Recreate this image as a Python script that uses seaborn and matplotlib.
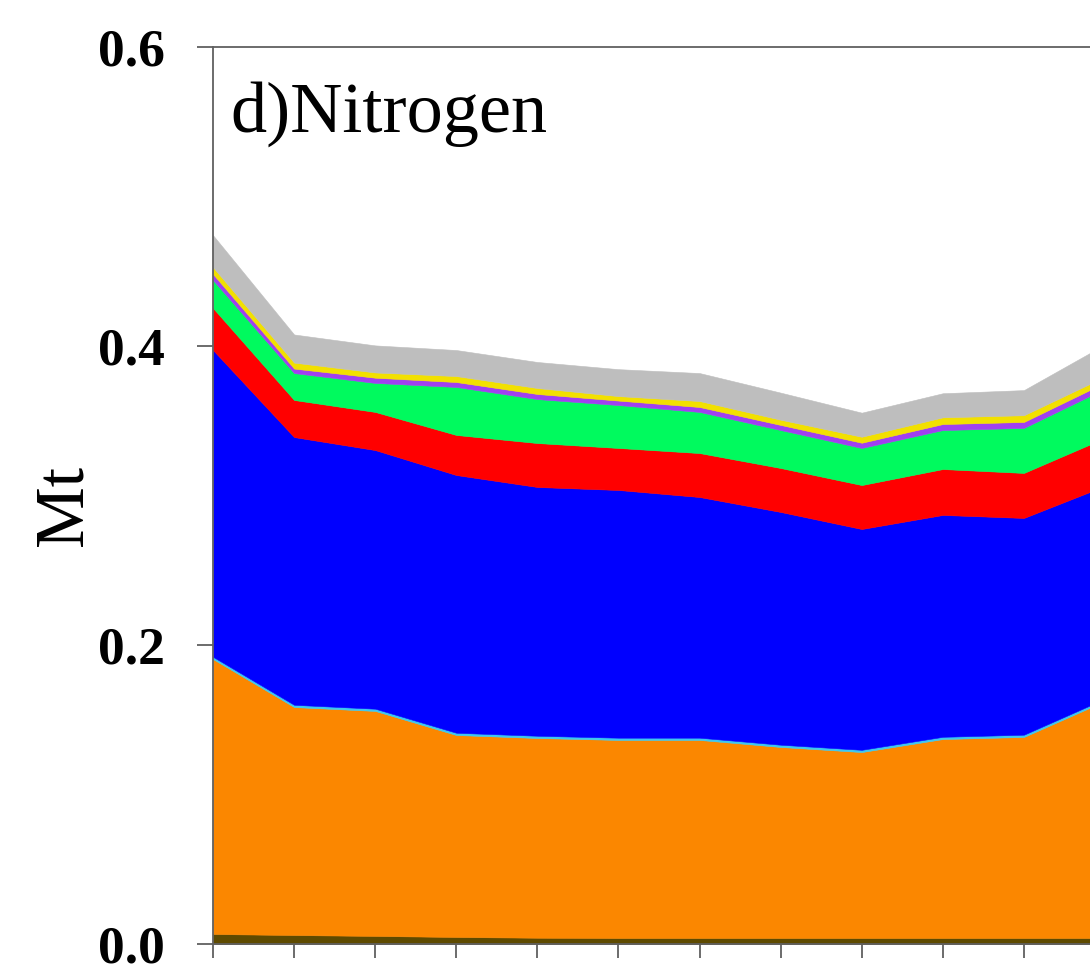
import numpy as np
import matplotlib
matplotlib.use("Agg")
import matplotlib.pyplot as plt
import seaborn as sns

# Time steps along the x axis
steps = np.arange(12)

# Nitrogen amounts per component (Mt), stacked bottom to top
dark_olive = [0.0067, 0.0060, 0.0054, 0.0047, 0.0042, 0.0040, 0.0040, 0.0040, 0.0040, 0.0040, 0.0040, 0.0040]
orange     = [0.1839, 0.1525, 0.1505, 0.1351, 0.1336, 0.1325, 0.1325, 0.1278, 0.1244, 0.1331, 0.1345, 0.1585]
cyan       = [0.0015, 0.0015, 0.0015, 0.0015, 0.0015, 0.0015, 0.0015, 0.0015, 0.0015, 0.0015, 0.0015, 0.0015]
blue       = [0.2052, 0.1791, 0.1730, 0.1724, 0.1664, 0.1657, 0.1610, 0.1557, 0.1477, 0.1484, 0.1450, 0.1424]
red        = [0.0281, 0.0248, 0.0255, 0.0268, 0.0294, 0.0281, 0.0294, 0.0294, 0.0294, 0.0307, 0.0301, 0.0321]
green      = [0.0187, 0.0180, 0.0194, 0.0321, 0.0294, 0.0287, 0.0275, 0.0254, 0.0248, 0.0261, 0.0301, 0.0330]
purple     = [0.0040, 0.0030, 0.0035, 0.0033, 0.0034, 0.0030, 0.0033, 0.0034, 0.0035, 0.0040, 0.0040, 0.0040]
yellow     = [0.0046, 0.0040, 0.0035, 0.0040, 0.0040, 0.0030, 0.0040, 0.0035, 0.0040, 0.0045, 0.0045, 0.0040]
gray       = [0.0214, 0.0188, 0.0181, 0.0174, 0.0174, 0.0180, 0.0187, 0.0181, 0.0161, 0.0161, 0.0168, 0.0215]

layer_colors = ["#5e4a00", "#fb8700", "#3cc8f0", "#0000ff", "#ff0000",
                "#00fa5e", "#a040f0", "#f2e000", "#bebebe"]

yticks = [0.0, 0.2, 0.4, 0.6]
ytick_labels = ["0.0", "0.2", "0.4", "0.6"]

sns.set_theme(style="ticks")
plt.rcParams["font.family"] = ["Liberation Serif", "DejaVu Serif"]

fig = plt.figure(figsize=(10.9, 9.64), dpi=100)
fig.patch.set_facecolor("white")
# axes run past the right edge of the figure
ax = fig.add_axes([213 / 1090, 20 / 964, 892 / 1090, 897 / 964])
ax.set_facecolor("white")

layers = [dark_olive, orange, cyan, blue, red, green, purple, yellow, gray]
polys = ax.stackplot(steps, *layers, colors=layer_colors, linewidth=0.4)
for p, c in zip(polys, layer_colors):
    p.set_edgecolor(c)

ax.set_xlim(0, 11)
ax.set_ylim(0, 0.6)
ax.set_xticks(steps)
ax.set_xticklabels([])
ax.set_yticks(yticks)
ax.set_yticklabels(ytick_labels, fontsize=38.5, fontweight="bold", color="black")

spine_color = "#606060"
for side in ["left", "top", "bottom", "right"]:
    ax.spines[side].set_color(spine_color)
    ax.spines[side].set_linewidth(1.3)
ax.tick_params(axis="y", direction="out", length=11.5, width=1.3, color=spine_color, pad=23)
ax.tick_params(axis="x", direction="out", length=10, width=1.3, color=spine_color)

ax.set_ylabel("Mt", fontsize=50, color="black")
ax.yaxis.set_label_coords(97 / 1090, (964 - 505) / 964, transform=fig.transFigure)

ax.text(17 / 892, (944 - 132) / 897, "d)Nitrogen", transform=ax.transAxes,
        fontsize=52, ha="left", va="baseline", color="black")

fig.savefig("out.png", dpi=100)
